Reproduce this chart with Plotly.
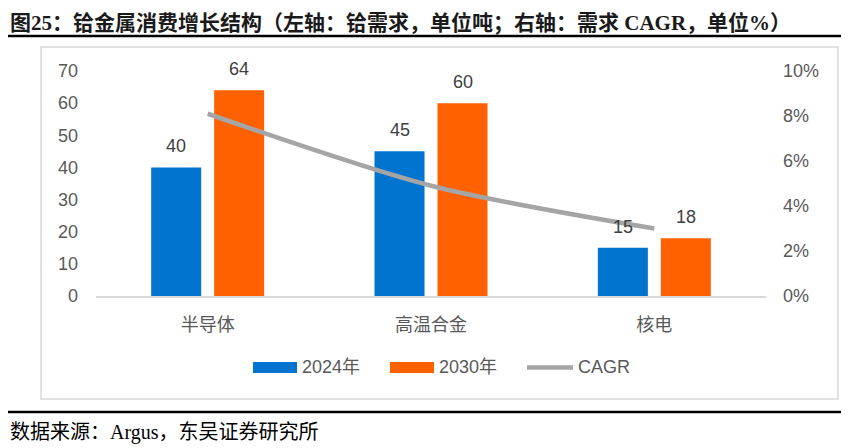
import plotly.graph_objects as go

# data
categories = ["半导体", "高温合金", "核电"]
demand_2024 = [40, 45, 15]
demand_2030 = [64, 60, 18]
cagr = [0.081, 0.049, 0.030]
series_names = ["2024年", "2030年", "CAGR"]

# the page has an 8px body margin; the figure starts at (8, 8) and runs to the window edge
PAGE_W, PAGE_H = 849, 448
OFF = 8
W, H = PAGE_W - OFF, PAGE_H - OFF
BLUE = "#0074CF"
ORANGE = "#FF6000"
GREY = "#A5A5A5"
TXT = "#595959"
SANS = "Liberation Sans, Arial, Noto Sans CJK SC"
SERIF = "Liberation Serif, Times New Roman, Noto Sans CJK SC"


def px(x):
    # page pixel -> paper fraction
    return (x - OFF) / W


def py(y):
    return 1 - (y - OFF) / H


fig = go.Figure()

fig.add_trace(go.Bar(x=categories, y=demand_2024, name=series_names[0],
                     marker=dict(color=BLUE, line=dict(width=0))))
fig.add_trace(go.Bar(x=categories, y=demand_2030, name=series_names[1],
                     marker=dict(color=ORANGE, line=dict(width=0))))
fig.add_trace(go.Scatter(x=categories, y=cagr, name=series_names[2], yaxis="y2",
                         mode="lines", line=dict(color=GREY, width=4.5, shape="spline", smoothing=0.8)))

# value labels above each bar
annotations = []
for i, cat in enumerate(categories):
    for val, shift in ((demand_2024[i], -31.5), (demand_2030[i], 31.5)):
        annotations.append(dict(x=cat, y=val, xref="x", yref="y", text=str(val), showarrow=False,
                                xshift=shift, yshift=21, yanchor="middle",
                                font=dict(family=SANS, size=18, color="#404040")))

# title and source
annotations.append(dict(x=px(8), y=py(9), xref="paper", yref="paper", xanchor="left", yanchor="top",
                        showarrow=False, text="<b>图25：铪金属消费增长结构（左轴：铪需求，单位吨；右轴：需求 CAGR，单位%）</b>",
                        font=dict(family=SERIF, size=21, color="#1a1a1a")))
annotations.append(dict(x=px(8), y=py(432), xref="paper", yref="paper", xanchor="left", yanchor="middle",
                        showarrow=False, text="数据来源：Argus，东吴证券研究所",
                        font=dict(family=SERIF, size=20, color="#000000")))

# hand-made legend to match the wide swatches
shapes = [
    dict(type="line", xref="paper", yref="paper", x0=0, x1=1, y0=py(36), y1=py(36),
         line=dict(color="black", width=2.5)),
    dict(type="line", xref="paper", yref="paper", x0=0, x1=1, y0=py(412), y1=py(412),
         line=dict(color="black", width=2.5)),
    dict(type="rect", xref="paper", yref="paper", x0=px(41), x1=px(838), y0=py(399), y1=py(47),
         line=dict(color="#D9D9D9", width=1.5), layer="below"),
    dict(type="rect", xref="paper", yref="paper", x0=px(253), x1=px(297), y0=py(373), y1=py(362),
         fillcolor=BLUE, line=dict(width=0)),
    dict(type="rect", xref="paper", yref="paper", x0=px(390), x1=px(434), y0=py(373), y1=py(362),
         fillcolor=ORANGE, line=dict(width=0)),
    dict(type="line", xref="paper", yref="paper", x0=px(527), x1=px(573), y0=py(367.5), y1=py(367.5),
         line=dict(color=GREY, width=4.5)),
]
for name, x in zip(series_names, (300, 437, 576)):
    annotations.append(dict(x=px(x), y=py(367), xref="paper", yref="paper", xanchor="left", yanchor="middle",
                            showarrow=False, text=name, font=dict(family=SANS, size=18, color=TXT)))

fig.update_layout(
    width=W, height=H,
    margin=dict(l=0, r=0, t=0, b=0, autoexpand=False),
    paper_bgcolor="white", plot_bgcolor="white",
    showlegend=False,
    barmode="group", bargap=0.436, bargroupgap=0.206,
    xaxis=dict(domain=[px(96), px(766)], showgrid=False, showline=True, linecolor="#D9D9D9", linewidth=1.5,
               ticks="", ticklabelstandoff=12,
               tickfont=dict(family="Noto Sans CJK SC", size=18, color=TXT)),
    yaxis=dict(domain=[py(296), py(71)], range=[0, 70], dtick=10, showgrid=False, zeroline=False,
               ticks="", ticklabelstandoff=17, tickfont=dict(family=SANS, size=18, color=TXT)),
    yaxis2=dict(overlaying="y", side="right", range=[0, 0.10], dtick=0.02, tickformat=".0%",
                showgrid=False, zeroline=False, ticks="", ticklabelstandoff=16,
                tickfont=dict(family=SANS, size=18, color=TXT)),
    annotations=annotations,
    shapes=shapes,
)

fig.write_html("out.html")
